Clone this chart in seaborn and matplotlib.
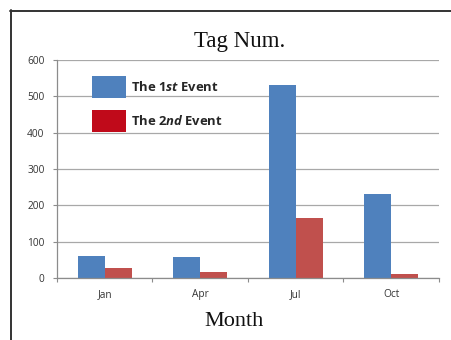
import matplotlib
matplotlib.use("Agg")
import matplotlib.pyplot as plt
from matplotlib.patches import Patch
from matplotlib.lines import Line2D
import seaborn as sns
import pandas as pd

months = ["Jan", "Apr", "Jul", "Oct"]
first_event = [61, 58, 531, 231]
second_event = [27, 16, 166, 10]
series_names = ["The 1st Event", "The 2nd Event"]
legend_labels = [r"The 1$st$ Event", r"The 2$nd$ Event"]
y_ticks = [0, 100, 200, 300, 400, 500, 600]

df = pd.DataFrame({
    "Month": months * 2,
    "Tags": first_event + second_event,
    "Event": [series_names[0]] * len(months) + [series_names[1]] * len(months),
})

sns.set_theme(style="white")
plt.rcParams["font.family"] = ["Open Sans", "DejaVu Sans"]
plt.rcParams["mathtext.fontset"] = "custom"
plt.rcParams["mathtext.it"] = "Open Sans:italic:bold"
plt.rcParams["mathtext.rm"] = "Open Sans:bold"

bar_colors = ["#4F81BD", "#C0504D"]
legend_colors = ["#4F81BD", "#C00A1A"]

fig = plt.figure(figsize=(4.52, 3.40), dpi=100)
ax = fig.add_axes([57 / 452, 1 - 278 / 340, (439 - 57) / 452, (278 - 60) / 340])

sns.barplot(data=df, x="Month", y="Tags", hue="Event", palette=bar_colors,
            width=0.565, gap=0, saturation=1, legend=False, ax=ax,
            linewidth=0, edgecolor="none")

ax.set_ylim(0, 600)
ax.set_xlim(-0.5, len(months) - 0.5)
ax.set_yticks(y_ticks)
ax.yaxis.grid(True, color="#A8A8A8", linewidth=0.9)
ax.set_axisbelow(True)
ax.set_xlabel("")
ax.set_ylabel("")

for side in ["top", "right"]:
    ax.spines[side].set_visible(False)
for side in ["left", "bottom"]:
    ax.spines[side].set_color("#8C8C8C")
    ax.spines[side].set_linewidth(0.9)

ax.tick_params(axis="y", which="major", direction="out", length=3, width=0.8,
               color="#8C8C8C", labelsize=7.3, labelcolor="#333333", pad=6, left=True)
ax.tick_params(axis="x", which="major", length=0, labelsize=7.3,
               labelcolor="#333333", pad=8)
ax.set_xticks([i - 0.5 for i in range(len(months) + 1)], minor=True)
ax.tick_params(axis="x", which="minor", direction="out", length=3, width=0.8,
               color="#8C8C8C", bottom=True)

handles = [Patch(facecolor=c, edgecolor="none") for c in legend_colors]
ax.legend(handles, legend_labels, loc="upper left",
          bbox_to_anchor=(92 / 452, 1 - 76 / 340), bbox_transform=fig.transFigure,
          frameon=False, borderpad=0, borderaxespad=0,
          prop={"weight": "bold", "size": 9.4},
          handlelength=2.6, handleheight=2.2, handletextpad=0.4, labelspacing=0.95)

fig.text(240 / 452, 1 - 41 / 340, "Tag Num.", ha="center", va="center",
         fontsize=16.5, family="Liberation Serif", color="#111111")
fig.text(234 / 452, 1 - 322 / 340, "Month", ha="center", va="center",
         fontsize=16, family="Liberation Serif", color="#111111")

# outer frame: top and left edges
fig.add_artist(Line2D([10.5 / 452, 10.5 / 452], [0, 1 - 10 / 340],
                      transform=fig.transFigure, color="#333333", linewidth=1.4))
fig.add_artist(Line2D([10 / 452, 1], [1 - 10.5 / 340, 1 - 10.5 / 340],
                      transform=fig.transFigure, color="#333333", linewidth=1.4))

fig.savefig("out.png", dpi=100, facecolor="white")
